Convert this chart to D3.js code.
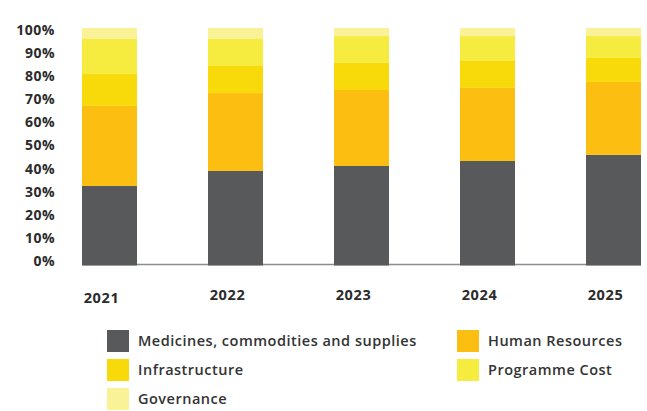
<!DOCTYPE html>
<html>
<head>
<meta charset="utf-8">
<script src="https://cdn.jsdelivr.net/npm/d3@7"></script>
<style>
  body { margin: 0; background: #fff; }
  svg { display: block; font-family: "Open Sans", sans-serif; }
</style>
</head>
<body>
<svg id="chart" width="647" height="411"></svg>
<script>
// Data (share of total, in %)
const years = ['2021', '2022', '2023', '2024', '2025'];
const seriesNames = ['Medicines, commodities and supplies', 'Human Resources',
  'Infrastructure', 'Programme Cost', 'Governance'];
const medicines      = [33.5, 39.8, 41.9, 44.0, 46.6];
const humanResources = [33.7, 32.8, 32.0, 30.8, 30.7];
const infrastructure = [13.4, 11.4, 11.4, 11.3, 10.1];
const programmeCost  = [14.8, 11.4, 11.3, 10.5, 9.2];
const governance     = [4.6, 4.6, 3.4, 3.4, 3.4];
const tickValues     = [0, 10, 20, 30, 40, 50, 60, 70, 80, 90, 100];

const colors = ['#58595b', '#fdbe12', '#f8d90a', '#f6eb3f', '#f9f297'];

class StackedChart {
  constructor(svg) {
    this.svg = svg;
    this.initVis();
  }

  initVis() {
    let vis = this;

    vis.barWidth = 55;
    vis.x = d3.scalePoint()
      .domain(years)
      .range([109.5, 613.5]);
    vis.y = d3.scaleLinear()
      .domain([0, 100])
      .range([265.5, 28]);
    // tick labels sit on a slightly tighter spacing than the bars
    vis.yLabel = d3.scaleLinear()
      .domain([0, 100])
      .range([261, 30]);

    let cols = [medicines, humanResources, infrastructure, programmeCost, governance];
    vis.rows = years.map((yr, i) => {
      let row = { year: yr };
      seriesNames.forEach((s, j) => row[s] = cols[j][i]);
      return row;
    });
    vis.stack = d3.stack().keys(seriesNames)(vis.rows);

    vis.render();
  }

  render() {
    let vis = this;

    // baseline
    vis.svg.append('line')
      .attr('x1', vis.x(years[0]) - vis.barWidth / 2)
      .attr('x2', vis.x(years[years.length - 1]) + vis.barWidth / 2)
      .attr('y1', vis.y(0) - 1)
      .attr('y2', vis.y(0) - 1)
      .attr('stroke', '#8c8c8c')
      .attr('stroke-width', 1.6);

    vis.svg.append('g').selectAll('g')
      .data(vis.stack)
      .join('g')
        .attr('fill', (d, i) => colors[i])
      .selectAll('rect')
      .data(d => d)
      .join('rect')
        .attr('x', d => vis.x(d.data.year) - vis.barWidth / 2)
        .attr('width', vis.barWidth)
        .attr('y', d => vis.y(d[1]))
        .attr('height', d => vis.y(d[0]) - vis.y(d[1]));

    // y axis labels
    let yAxis = d3.axisLeft(vis.yLabel)
      .tickValues(tickValues)
      .tickFormat(d => d + '%')
      .tickSize(0)
      .tickPadding(0);
    let ga = vis.svg.append('g')
      .attr('transform', 'translate(55,0)')
      .call(yAxis);
    ga.select('.domain').remove();
    ga.selectAll('text')
      .attr('fill', '#2b2b2b')
      .attr('font-size', 14)
      .attr('font-weight', 700)
      .attr('letter-spacing', 0.5)
      .attr('font-family', '"Open Sans", sans-serif');

    // year labels
    vis.svg.append('g').selectAll('text')
      .data(years)
      .join('text')
        .attr('x', d => vis.x(d) - 8)
        .attr('y', (d, i) => i === 0 ? 298 : 295)
        .attr('dy', '0.35em')
        .attr('text-anchor', 'middle')
        .attr('fill', '#2b2b2b')
        .attr('font-size', 14.5)
        .attr('font-weight', 700)
        .attr('letter-spacing', 0.6)
        .text(d => d);

    // legend, two columns filled row by row
    let legend = vis.svg.append('g').selectAll('g')
      .data(seriesNames)
      .join('g')
        .attr('transform', (d, i) =>
          `translate(${i % 2 === 0 ? 107 : 457},${330 + Math.floor(i / 2) * 29})`);
    legend.append('rect')
      .attr('width', 22)
      .attr('height', 22)
      .attr('fill', (d, i) => colors[i]);
    legend.append('text')
      .attr('x', 31)
      .attr('y', 11)
      .attr('dy', '0.35em')
      .attr('fill', '#333')
      .attr('font-size', 14.5)
      .attr('font-weight', 600)
      .attr('letter-spacing', 0.5)
      .text(d => d);
  }
}

new StackedChart(d3.select('#chart'));
</script>
</body>
</html>
